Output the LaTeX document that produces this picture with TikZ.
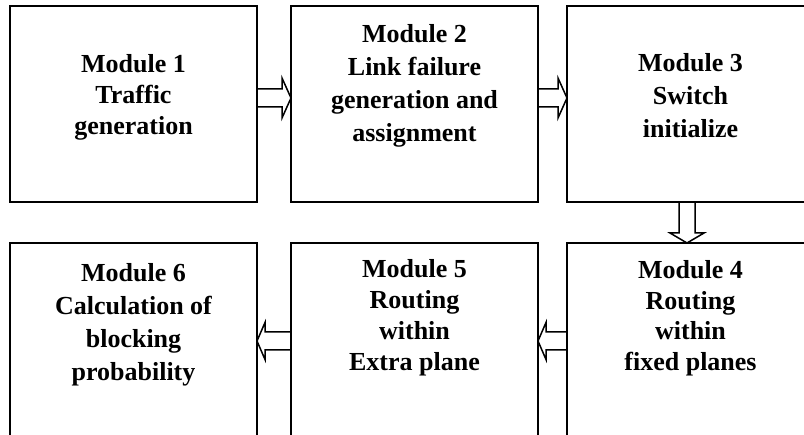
\documentclass[tikz,border=0pt]{standalone}
\usepackage{fontspec}
\setmainfont{Liberation Serif}
\usetikzlibrary{calc}
% centred stack of lines; #1 = line distance, #2 = lines
\newcommand\modtext[2]{\fontsize{26}{#1}\selectfont\begin{tabular}[t]{@{}c@{}}#2\end{tabular}}
\begin{document}
\begin{tikzpicture}[x=1pt,y=-1pt,
  module/.style={draw, line width=2pt, minimum width=247pt, minimum height=196pt,
                 inner sep=0pt, outer sep=0pt},
  modlabel/.style={font=\bfseries, anchor=base, inner sep=0pt},
  flow/.style={draw, line width=1.5pt, line join=miter}]
\useasboundingbox (0,0) rectangle (804,435);
\clip (0,0) rectangle (804,435);

% module boxes
\node[module] (m1) at (133.5,104) {};
\node[module] (m2) at (414.5,104) {};
\node[module] (m3) at (690.5,104) {};
\node[module] (m4) at (690.5,341) {};
\node[module] (m5) at (414.5,341) {};
\node[module] (m6) at (133.5,341) {};

% module captions
\node[modlabel] (l1) at ($(m1.north)+(0,67)$) {\modtext{31}{Module 1\\Traffic\\generation}};
\node[modlabel] (l2) at ($(m2.north)+(0,37)$) {\modtext{33}{Module 2\\Link failure\\generation and\\assignment}};
\node[modlabel] (l3) at ($(m3.north)+(0,66)$) {\modtext{33}{Module 3\\Switch\\initialize}};
\node[modlabel] (l4) at ($(m4.north)+(0,36)$) {\modtext{30.5}{Module 4\\Routing\\within\\fixed planes}};
\node[modlabel] (l5) at ($(m5.north)+(0,35)$) {\modtext{31}{Module 5\\Routing\\within\\Extra plane}};
\node[modlabel] (l6) at ($(m6.north)+(0,39)$) {\modtext{33}{Module 6\\Calculation of\\blocking\\probability}};

% block arrows, top row (left to right)
\draw[flow] let \p1=($(m1.east)+(0,-6)$), \p2=($(m2.west)+(0,-6)$) in
  (\x1,\y1+9) -- (\x2-9,\y1+9) -- (\x2-9,\y1+20) -- (\x2,\y1)
  -- (\x2-9,\y1-20) -- (\x2-9,\y1-9) -- (\x1,\y1-9);
\draw[flow] let \p1=($(m2.east)+(0,-6)$), \p2=($(m3.west)+(0,-6)$) in
  (\x1,\y1+9) -- (\x2-9,\y1+9) -- (\x2-9,\y1+20) -- (\x2,\y1)
  -- (\x2-9,\y1-20) -- (\x2-9,\y1-9) -- (\x1,\y1-9);

% block arrow down from module 3 to module 4
\draw[flow] let \p1=($(m3.south)+(-3.5,0)$), \p2=($(m4.north)+(-3.5,0)$) in
  (\x1-8,\y1) -- (\x1-8,\y2+10) -- (\x1-17,\y2+10) -- (\x1,\y2)
  -- (\x1+17,\y2+10) -- (\x1+8,\y2+10) -- (\x1+8,\y1);

% block arrows, bottom row (right to left)
\draw[flow] let \p1=(m4.west), \p2=(m5.east) in
  (\x1,\y1+9) -- (\x2+8,\y1+9) -- (\x2+8,\y1+18.5) -- (\x2,\y1)
  -- (\x2+8,\y1-18.5) -- (\x2+8,\y1-9) -- (\x1,\y1-9);
\draw[flow] let \p1=(m5.west), \p2=(m6.east) in
  (\x1,\y1+9) -- (\x2+8,\y1+9) -- (\x2+8,\y1+18.5) -- (\x2,\y1)
  -- (\x2+8,\y1-18.5) -- (\x2+8,\y1-9) -- (\x1,\y1-9);
\end{tikzpicture}
\end{document}
